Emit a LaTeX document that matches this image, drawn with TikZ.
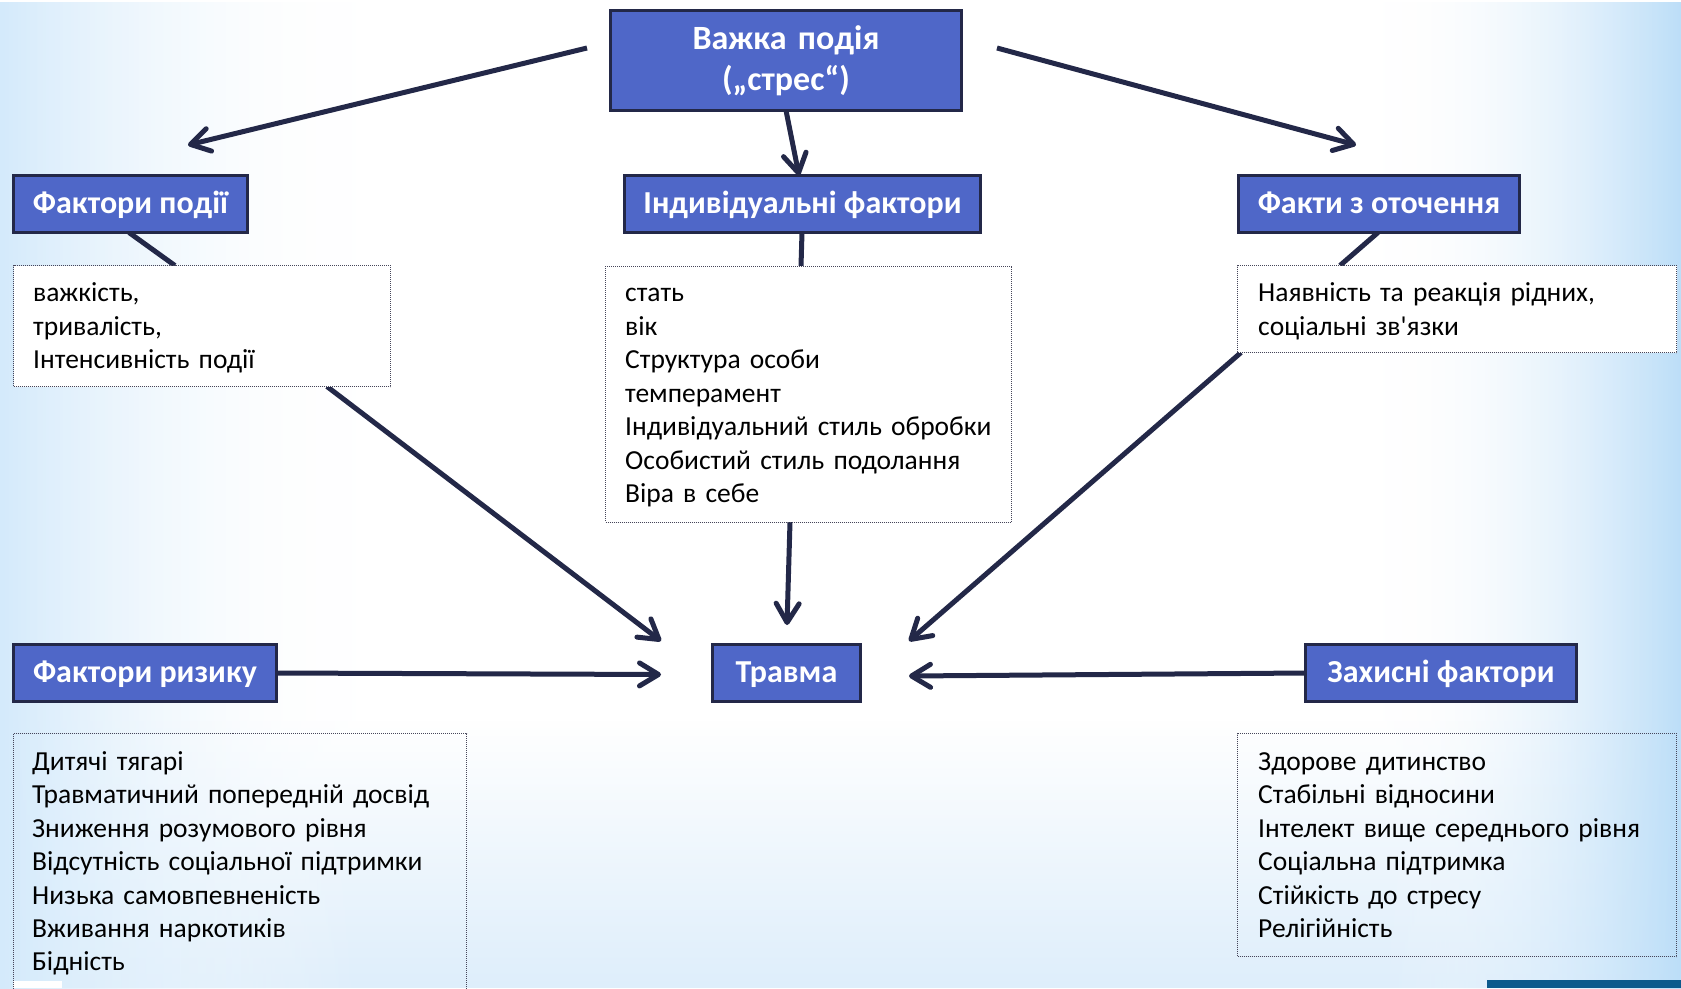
\documentclass[tikz,border=0pt]{standalone}
\usepackage{fontspec}
\setmainfont{Carlito}[Ligatures=TeXOff]
\usetikzlibrary{arrows.meta,calc,fadings}
\definecolor{boxblue}{RGB}{79,103,200}
\definecolor{navy}{RGB}{35,40,72}
\definecolor{bgleft}{RGB}{212,234,251}
\definecolor{bgright}{RGB}{188,222,248}
\definecolor{bgbottom}{RGB}{222,238,251}
\definecolor{slideteal}{RGB}{12,90,140}
\definecolor{dotgray}{RGB}{70,70,90}
\pgfdeclarelayer{bg}
\pgfsetlayers{bg,main}
\tikzset{
  lbl/.style={draw=navy, line width=3pt, fill=boxblue, text=white, inner sep=0pt, outer sep=0pt,
    font=\fontsize{32}{38}\selectfont\bfseries, text height=22pt, text depth=4pt, minimum height=57pt},
  topbox/.style={draw=navy, line width=3pt, fill=boxblue, inner sep=0pt, outer sep=0pt},
  toptxt/.style={text=white, inner sep=0pt, anchor=north, align=center, text width=340pt,
    font=\fontsize{34}{41}\selectfont\bfseries},
  tbox/.style={draw=dotgray, line width=1pt, dash pattern=on 1pt off 1pt, inner sep=0pt, outer sep=0pt, anchor=north west},
  ttext/.style={inner sep=0pt, anchor=north west, align=left, text width=440pt, text=black,
    font=\fontsize{27.5}{33.45}\selectfont},
  conn/.style={draw=navy, line width=5pt},
  arr/.style={conn, -{Straight Barb[length=19pt,width=23pt,round]}}
}
\begin{document}
\begin{tikzpicture}[x=1pt,y=-1pt]
\useasboundingbox (0,0) rectangle (1681,988);
\begin{pgfonlayer}{bg}
  \fill[white] (0,0) rectangle (1681,988);
  \fill[bgbottom, path fading=north] (0,720) rectangle (1681,988);
  \shade[left color=bgleft, right color=white, path fading=east] (0,0) rectangle (360,988);
  \shade[left color=white, right color=bgright, path fading=west] (1380,0) rectangle (1681,988);
  \fill[white] (13,981) rectangle (62,988);
  \fill[slideteal] (1487,980) rectangle (1681,988);
\end{pgfonlayer}

% title box
\node[topbox, minimum width=351pt, minimum height=100pt] (top) at (786,60.5) {};
\node[toptxt] (toptext) at (786,20.3) {\strut Важка подія\\(„стрес“)};

% labels
\node[lbl, minimum width=234pt] (fp) at (130.5,204) {Фактори події};
\node[lbl, minimum width=356pt] (ind) at (802.5,204) {Індивідуальні фактори};
\node[lbl, minimum width=281pt] (fo) at (1379,204) {Факти з оточення};
\node[lbl, minimum width=263pt] (fr) at (145,673) {Фактори ризику};
\node[lbl, minimum width=148pt] (tr) at (786.5,673) {Травма};
\node[lbl, minimum width=271pt] (zf) at (1441,673) {Захисні фактори};

% dotted text boxes
\node[tbox, fill=white, minimum width=377pt, minimum height=121pt] (b1) at (13.5,265.5) {};
\node[tbox, fill=white, minimum width=406pt, minimum height=256pt] (bm) at (605.5,266) {};
\node[tbox, fill=white, minimum width=439pt, minimum height=87pt] (br) at (1237.5,265.5) {};
\node[tbox, minimum width=453pt, minimum height=262pt] (bl) at (13.5,733.5) {};
\node[tbox, minimum width=439pt, minimum height=223pt] (bb) at (1237.5,733.5) {};

% texts
\node[ttext] (t1) at (33,278.3) {\strut важкість,\\тривалість,\\Інтенсивність події};
\node[ttext] (tm) at (625,278.3) {\strut стать\\вік\\Структура особи\\темперамент\\Індивідуальний стиль обробки\\Особистий стиль подолання\\Віра в себе};
\node[ttext] (tf) at (1258,278.3) {\strut Наявність та реакція рідних,\\соціальні зв'язки};
\node[ttext] (tl) at (32,746.6) {\strut Дитячі тягарі\\Травматичний попередній досвід\\Зниження розумового рівня\\Відсутність соціальної підтримки\\Низька самовпевненість\\Вживання наркотиків\\Бідність};
\node[ttext] (tz) at (1258,746.6) {\strut Здорове дитинство\\Стабільні відносини\\Інтелект вище середнього рівня\\Соціальна підтримка\\Стійкість до стресу\\Релігійність};

% free arrow ends
\coordinate (a1s) at (587,48);
\coordinate (a1e) at (188,145);
\coordinate (a2s) at (997,48);
\coordinate (a2e) at (1356,145);
\coordinate (inl) at (661,641);
\coordinate (inm) at (787,625);
\coordinate (inr) at (909,641);
\coordinate (inw) at (661,674.5);
\coordinate (ine) at (909,676);

\begin{pgfonlayer}{bg}
  \draw[arr] (a1s) -- (a1e);
  \draw[arr] (a2s) -- (a2e);
  \draw[arr] (top.south) -- ([xshift=-3.5pt]ind.north);
  \draw[conn] ([xshift=-1.5pt]fp.south) -- ($(b1.north west)!0.428!(b1.north east)$);
  \draw[conn] ([xshift=-0.5pt]ind.south) -- ([xshift=-7.5pt]bm.north);
  \draw[conn] ([xshift=-1pt]fo.south) -- ([xshift=-117pt]br.north);
  \draw[arr] ([xshift=125pt]b1.south) -- (inl);
  \draw[arr] ([xshift=-18.5pt]bm.south) -- (inm);
  \draw[arr] ([xshift=3.5pt]br.south west) -- (inr);
  \draw[arr] (fr.east) -- (inw);
  \draw[arr] (zf.west) -- (ine);
\end{pgfonlayer}
\end{tikzpicture}
\end{document}
